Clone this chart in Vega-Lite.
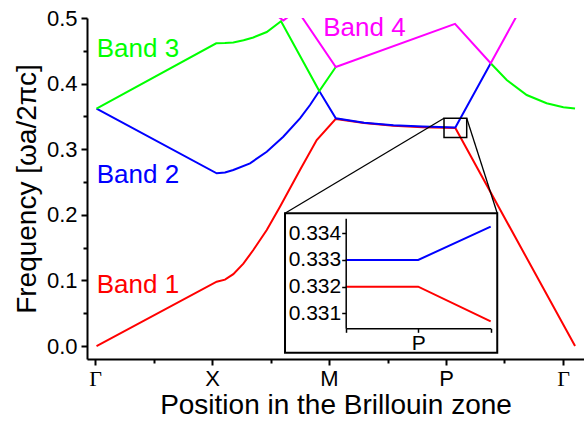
{
  "$schema": "https://vega.github.io/schema/vega-lite/v6.json",
  "width": 497,
  "height": 341,
  "autosize": "none",
  "padding": {"left": 87, "top": 18, "right": 0, "bottom": 65},
  "background": "white",
  "config": {
    "view": {"stroke": null},
    "font": "Liberation Sans",
    "axis": {"labelFont": "Liberation Sans", "titleFont": "Liberation Sans", "labelColor": "black", "titleColor": "black", "domainColor": "black", "tickColor": "black", "grid": false, "labelFlush": false, "labelOverlap": false, "labelBound": false},
    "text": {"font": "Liberation Sans"}
  },
  "datasets": {
    "bands": [
      {"band": "Band 1", "seg": "r1", "x": 0.013, "y": 0.0},
      {"band": "Band 1", "seg": "r1", "x": 1.04, "y": 0.098},
      {"band": "Band 1", "seg": "r1", "x": 1.111, "y": 0.1012},
      {"band": "Band 1", "seg": "r1", "x": 1.182, "y": 0.1095},
      {"band": "Band 1", "seg": "r1", "x": 1.268, "y": 0.1255},
      {"band": "Band 1", "seg": "r1", "x": 1.353, "y": 0.1463},
      {"band": "Band 1", "seg": "r1", "x": 1.468, "y": 0.1768},
      {"band": "Band 1", "seg": "r1", "x": 1.581, "y": 0.2123},
      {"band": "Band 1", "seg": "r1", "x": 1.752, "y": 0.2683},
      {"band": "Band 1", "seg": "r1", "x": 1.895, "y": 0.314},
      {"band": "Band 1", "seg": "r1", "x": 2.058, "y": 0.3462},
      {"band": "Band 1", "seg": "r1", "x": 2.3, "y": 0.3398},
      {"band": "Band 1", "seg": "r1", "x": 2.55, "y": 0.3356},
      {"band": "Band 1", "seg": "r1", "x": 2.8, "y": 0.3336},
      {"band": "Band 1", "seg": "r1", "x": 3.08, "y": 0.3322},
      {"band": "Band 1", "seg": "r1", "x": 4.103, "y": 0.0},
      {"band": "Band 2", "seg": "b1", "x": 0.013, "y": 0.3617},
      {"band": "Band 2", "seg": "b1", "x": 1.04, "y": 0.2633},
      {"band": "Band 2", "seg": "b1", "x": 1.111, "y": 0.2645},
      {"band": "Band 2", "seg": "b1", "x": 1.182, "y": 0.2683},
      {"band": "Band 2", "seg": "b1", "x": 1.325, "y": 0.2785},
      {"band": "Band 2", "seg": "b1", "x": 1.468, "y": 0.2962},
      {"band": "Band 2", "seg": "b1", "x": 1.609, "y": 0.319},
      {"band": "Band 2", "seg": "b1", "x": 1.752, "y": 0.3471},
      {"band": "Band 2", "seg": "b1", "x": 1.838, "y": 0.3674},
      {"band": "Band 2", "seg": "b1", "x": 1.917, "y": 0.3887},
      {"band": "Band 2", "seg": "b1", "x": 2.058, "y": 0.3471},
      {"band": "Band 2", "seg": "b1", "x": 2.3, "y": 0.3405},
      {"band": "Band 2", "seg": "b1", "x": 2.55, "y": 0.3366},
      {"band": "Band 2", "seg": "b1", "x": 2.8, "y": 0.3345},
      {"band": "Band 2", "seg": "b1", "x": 3.08, "y": 0.3332},
      {"band": "Band 2", "seg": "b1", "x": 3.382, "y": 0.431},
      {"band": "Band 3", "seg": "g1", "x": 0.013, "y": 0.3617},
      {"band": "Band 3", "seg": "g1", "x": 1.036, "y": 0.4614},
      {"band": "Band 3", "seg": "g1", "x": 1.11, "y": 0.4618},
      {"band": "Band 3", "seg": "g1", "x": 1.182, "y": 0.4626},
      {"band": "Band 3", "seg": "g1", "x": 1.27, "y": 0.466},
      {"band": "Band 3", "seg": "g1", "x": 1.353, "y": 0.4703},
      {"band": "Band 3", "seg": "g1", "x": 1.468, "y": 0.4786},
      {"band": "Band 3", "seg": "g1", "x": 1.59, "y": 0.495},
      {"band": "Band 3", "seg": "g1", "x": 1.917, "y": 0.3887},
      {"band": "Band 3", "seg": "g1", "x": 2.058, "y": 0.4253},
      {"band": "Band 3", "seg": "g2", "x": 3.382, "y": 0.431},
      {"band": "Band 3", "seg": "g2", "x": 3.519, "y": 0.4055},
      {"band": "Band 3", "seg": "g2", "x": 3.69, "y": 0.3826},
      {"band": "Band 3", "seg": "g2", "x": 3.86, "y": 0.37},
      {"band": "Band 3", "seg": "g2", "x": 4.003, "y": 0.364},
      {"band": "Band 3", "seg": "g2", "x": 4.103, "y": 0.362},
      {"band": "Band 4", "seg": "m1", "x": 1.5, "y": 0.511},
      {"band": "Band 4", "seg": "m1", "x": 1.61, "y": 0.4962},
      {"band": "Band 4", "seg": "m1", "x": 1.72, "y": 0.511},
      {"band": "Band 4", "seg": "m2", "x": 1.7, "y": 0.5195},
      {"band": "Band 4", "seg": "m2", "x": 2.058, "y": 0.4253},
      {"band": "Band 4", "seg": "m2", "x": 3.077, "y": 0.491},
      {"band": "Band 4", "seg": "m2", "x": 3.382, "y": 0.431},
      {"band": "Band 4", "seg": "m2", "x": 3.65, "y": 0.518}
    ],
    "labels": [
      {"band": "Band 1", "label": "Band 1", "x": 0.0145, "y": 0.0813},
      {"band": "Band 2", "label": "Band 2", "x": 0.0145, "y": 0.248},
      {"band": "Band 3", "label": "Band 3", "x": 0.0145, "y": 0.441},
      {"band": "Band 4", "label": "Band 4", "x": 1.951, "y": 0.4726}
    ],
    "zoombox": [{"x": 2.983, "x2": 3.177, "y": 0.3471, "y2": 0.318}],
    "insetbox": [{"x": 1.624, "x2": 3.438, "y": 0.2023, "y2": -0.0102}],
    "connectors": [
      {"x": 2.983, "y": 0.3471, "x2": 1.624, "y2": 0.2023},
      {"x": 3.177, "y": 0.3471, "x2": 3.438, "y2": 0.2023}
    ],
    "inset": [
      {"band": "Band 2", "x": -1, "y": 0.333},
      {"band": "Band 2", "x": 0, "y": 0.333},
      {"band": "Band 2", "x": 1, "y": 0.33425},
      {"band": "Band 1", "x": -1, "y": 0.332},
      {"band": "Band 1", "x": 0, "y": 0.332},
      {"band": "Band 1", "x": 1, "y": 0.3307}
    ]
  },
  "layer": [
    {
      "layer": [
        {
          "data": {"name": "bands"},
          "mark": {"type": "line", "strokeWidth": 2, "clip": true},
          "encoding": {
            "x": {"field": "x", "type": "quantitative",
              "scale": {"domain": [-0.0684, 4.1795], "nice": false, "zero": false},
              "axis": {"orient": "bottom", "values": [0, 1, 2, 3, 4], "labelExpr": "['Γ','X','M','P','Γ'][datum.value]",
                "labelFont": {"condition": {"test": "datum.value == 0 || datum.value == 4", "value": "Liberation Serif"}, "value": "Liberation Sans"},
                "labelFontSize": 22, "labelPadding": 3, "tickSize": 6, "tickWidth": 2, "domainWidth": 2,
                "title": "Position in the Brillouin zone", "titleFontSize": 28, "titleFontWeight": "normal", "titlePadding": 2}},
            "y": {"field": "y", "type": "quantitative",
              "scale": {"domain": [-0.0198, 0.5], "nice": false, "zero": false},
              "axis": {"orient": "left", "values": [0, 0.1, 0.2, 0.3, 0.4, 0.5], "format": ".1f",
                "labelFontSize": 22, "labelPadding": 4, "tickSize": 6, "tickWidth": 2, "domainWidth": 2,
                "title": "Frequency [ωa/2πc]", "titleFontSize": 28, "titleFontWeight": "normal", "titlePadding": 5}},
            "color": {"field": "band", "type": "nominal",
              "scale": {"domain": ["Band 1", "Band 2", "Band 3", "Band 4"], "range": ["#ff0000", "#0000ff", "#00ff00", "#ff00ff"]},
              "legend": null},
            "detail": {"field": "seg"}
          }
        },
        {
          "data": {"name": "labels"},
          "mark": {"type": "text", "align": "left", "baseline": "alphabetic", "fontSize": 26},
          "encoding": {
            "x": {"field": "x", "type": "quantitative"},
            "y": {"field": "y", "type": "quantitative"},
            "text": {"field": "label"},
            "color": {"field": "band", "type": "nominal", "legend": null}
          }
        },
        {
          "data": {"name": "zoombox"},
          "mark": {"type": "rect", "fill": "transparent", "stroke": "black", "strokeWidth": 1.5},
          "encoding": {
            "x": {"field": "x", "type": "quantitative"},
            "x2": {"field": "x2"},
            "y": {"field": "y", "type": "quantitative"},
            "y2": {"field": "y2"}
          }
        },
        {
          "data": {"name": "connectors"},
          "mark": {"type": "rule", "stroke": "black", "strokeWidth": 1.3},
          "encoding": {
            "x": {"field": "x", "type": "quantitative"},
            "x2": {"field": "x2"},
            "y": {"field": "y", "type": "quantitative"},
            "y2": {"field": "y2"}
          }
        },
        {
          "data": {"name": "insetbox"},
          "mark": {"type": "rect", "fill": "white", "stroke": "black", "strokeWidth": 2},
          "encoding": {
            "x": {"field": "x", "type": "quantitative"},
            "x2": {"field": "x2"},
            "y": {"field": "y", "type": "quantitative"},
            "y2": {"field": "y2"}
          }
        }
      ]
    },
    {
      "data": {"name": "bands"},
      "mark": {"type": "point", "opacity": 0},
      "encoding": {
        "x": {"field": "x", "type": "quantitative",
          "scale": {"domain": [-0.0684, 4.1795], "nice": false, "zero": false},
          "axis": {"orient": "bottom", "values": [0.5, 1.5, 2.5, 3.5], "labels": false, "domain": false, "tickSize": 4, "tickWidth": 2, "title": null}},
        "y": {"field": "y", "type": "quantitative",
          "scale": {"domain": [-0.0198, 0.5], "nice": false, "zero": false},
          "axis": {"orient": "left", "values": [0.05, 0.15, 0.25, 0.35, 0.45], "labels": false, "domain": false, "tickSize": 4, "tickWidth": 2, "title": null}}
      }
    },
    {
      "data": {"name": "inset"},
      "mark": {"type": "line", "strokeWidth": 2},
      "encoding": {
        "x": {"field": "x", "type": "quantitative",
          "scale": {"domain": [-1, 1], "range": [258.7, 403.7], "nice": false, "zero": false},
          "axis": {"orient": "bottom", "offset": -30.7, "values": [-1, 0, 1], "labelExpr": "datum.value == 0 ? 'P' : ''",
            "tickSize": 4, "tickWidth": 1.5, "domainWidth": 1.5, "labelFontSize": 21, "labelPadding": 0, "title": null, "zindex": 1}},
        "y": {"field": "y", "type": "quantitative",
          "scale": {"domain": [0.33044, 0.33456], "range": [310.3, 200.3], "nice": false, "zero": false},
          "axis": {"orient": "left", "offset": -258.7, "values": [0.331, 0.332, 0.333, 0.334], "format": ".3f",
            "tickSize": 4, "tickWidth": 1.5, "domainWidth": 1.5, "labelFontSize": 21, "labelPadding": 1, "title": null, "zindex": 1}},
        "color": {"field": "band", "type": "nominal",
          "scale": {"domain": ["Band 1", "Band 2", "Band 3", "Band 4"], "range": ["#ff0000", "#0000ff", "#00ff00", "#ff00ff"]},
          "legend": null}
      }
    }
  ],
  "resolve": {
    "scale": {"x": "independent", "y": "independent"},
    "axis": {"x": "independent", "y": "independent"}
  }
}
